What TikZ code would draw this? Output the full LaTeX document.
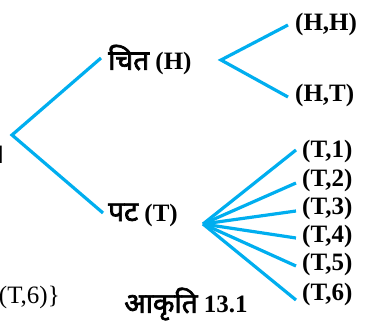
\documentclass[tikz,border=0pt]{standalone}
\usepackage{fontspec}
\setmainfont{Liberation Serif}
\newfontfamily\hindi[Script=Devanagari, Scale=1.12, BoldFont=Noto Sans, BoldFeatures={FakeBold=2.5}]{Noto Sans}
\usepackage{xcolor}
\usetikzlibrary{positioning}
\definecolor{branchblue}{RGB}{0,174,239}

\begin{document}
\begin{tikzpicture}[
    x = 1pt, y = -1pt,
    branch/.style = {line width=3.2pt, branchblue},
    outcome/.style = {font=\bfseries\fontsize{25}{26}\selectfont, anchor=west, inner sep=0pt}
]
    \useasboundingbox (0,0) rectangle (367,323);

    % पहला उछाल
    \coordinate (root) at (12,135);
    \coordinate (hEnd) at (101,58);
    \coordinate (tEnd) at (103,213);
    \draw[branch] (hEnd) -- (root) -- (tEnd);
    \node[outcome] (head) at (108,60) {{\hindi चित} (H)};
    \node[outcome] (tail) at (108,215) {{\hindi पट} (T)};

    % चित के बाद
    \coordinate (hFork) at (221,60);
    \node[outcome] (hh) at (295,24) {(H,H)};
    \node[outcome] (ht) at (295,95) {(H,T)};
    \coordinate (hhEnd) at (288,25);
    \coordinate (htEnd) at (288,97);
    \draw[branch] (hhEnd) -- (hFork) -- (htEnd);

    % पट के बाद
    \coordinate (tFork) at (203,224);
    \foreach \k/\ly/\ey in {1/151/150, 2/180/183, 3/208/211, 4/236/238, 5/264/266, 6/294/300} {
        \node[outcome] (t\k) at (302,\ly) {(T,\k)};
        \coordinate (e\k) at (296,\ey);
        \draw[branch] (tFork) -- (e\k);
    }

    % कटे हुए अंश
    \node[anchor=east, inner sep=0pt, font=\fontsize{25}{26}\selectfont] (frag) at (60,297) {\{(T,6)\}};
    \node[anchor=east, inner sep=0pt, font=\hindi\fontsize{25}{26}\selectfont] (dash) at (5,155) {।};

    % शीर्षक
    \node[font=\bfseries\fontsize{25}{26}\selectfont, inner sep=0pt] (caption) at (186,304) {{\hindi आकृति} 13.1};
\end{tikzpicture}
\end{document}
